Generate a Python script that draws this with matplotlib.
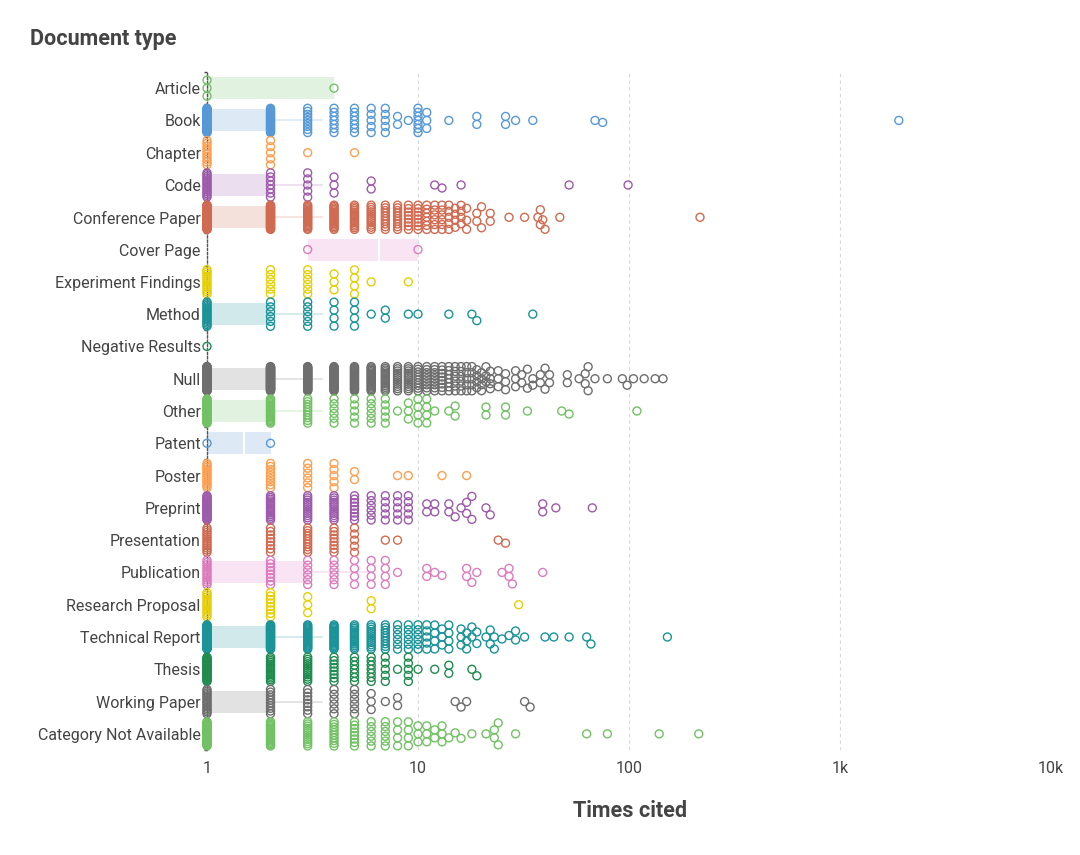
import numpy as np
import matplotlib.pyplot as plt
from matplotlib.colors import to_rgba

plt.rcParams['font.family'] = ['Roboto', 'DejaVu Sans']

categories = ['Article', 'Book', 'Chapter', 'Code', 'Conference Paper', 'Cover Page',
              'Experiment Findings', 'Method', 'Negative Results', 'Null', 'Other',
              'Patent', 'Poster', 'Preprint', 'Presentation', 'Publication',
              'Research Proposal', 'Technical Report', 'Thesis', 'Working Paper',
              'Category Not Available']

palette = ['#72c265', '#5699d6', '#fd9f50', '#9d5bab', '#d06a50',
           '#dc7cbf', '#e6cf05', '#1a9399', '#1f8b4f', '#6e6e6e']

# citation values and how many documents have each value
article_vals = [1, 4]
article_cnts = [3, 1]
book_vals = [1, 2, 3, 4, 5, 6, 7, 8, 9, 10, 11, 14, 19, 26, 29, 35, 69, 75, 1900]
book_cnts = [40, 25, 9, 7, 7, 5, 5, 2, 1, 7, 3, 1, 2, 2, 1, 1, 1, 1, 1]
chapter_vals = [1, 2, 3, 5]
chapter_cnts = [10, 5, 1, 1]
code_vals = [1, 2, 3, 4, 6, 12, 13, 16, 52, 99]
code_cnts = [15, 7, 5, 3, 2, 1, 1, 1, 1, 1]
conf_vals = [1, 2, 3, 4, 5, 6, 7, 8, 9, 10, 11, 12, 13, 14, 15, 16, 17, 19, 20, 22,
             27, 32, 37, 38, 39, 40, 47, 217]
conf_cnts = [80, 40, 20, 18, 15, 12, 10, 10, 8, 8, 7, 6, 6, 5, 4, 4, 3, 2, 2, 2,
             1, 1, 1, 2, 1, 1, 1, 1]
cover_vals = [3, 10]
cover_cnts = [1, 1]
exper_vals = [1, 2, 3, 4, 5, 6, 9]
exper_cnts = [12, 6, 6, 3, 4, 1, 1]
method_vals = [1, 2, 3, 4, 5, 6, 7, 9, 10, 14, 18, 19, 35]
method_cnts = [16, 6, 6, 4, 4, 1, 2, 1, 1, 1, 1, 1, 1]
negative_vals = [1]
negative_cnts = [1]
null_vals = [1, 2, 3, 4, 5, 6, 7, 8, 9, 10, 11, 12, 13, 14, 15, 16, 17, 18, 19, 20,
             21, 22, 24, 26, 29, 31, 33, 35, 38, 40, 42, 51, 58, 62, 64, 69, 79, 93,
             98, 105, 118, 133, 145]
null_cnts = [100, 60, 40, 30, 25, 20, 15, 12, 12, 10, 9, 9, 8, 7, 6, 6, 5, 5, 4, 4,
             3, 4, 3, 3, 3, 2, 2, 2, 2, 2, 2, 2, 1, 2, 2, 1, 1, 1,
             1, 1, 1, 1, 1]
other_vals = [1, 2, 3, 4, 5, 6, 7, 8, 9, 10, 11, 12, 14, 15, 21, 26, 33, 48, 52, 109]
other_cnts = [30, 20, 10, 6, 5, 6, 5, 1, 3, 4, 4, 1, 1, 2, 2, 2, 1, 1, 1, 1]
patent_vals = [1, 2]
patent_cnts = [1, 1]
poster_vals = [1, 2, 3, 4, 5, 8, 9, 13, 17]
poster_cnts = [14, 9, 6, 5, 2, 1, 1, 1, 1]
preprint_vals = [1, 2, 3, 4, 5, 6, 7, 8, 9, 11, 12, 14, 15, 16, 17, 18, 21, 22, 39, 45, 67]
preprint_cnts = [25, 15, 12, 12, 8, 6, 5, 5, 5, 2, 2, 2, 1, 1, 2, 2, 1, 1, 2, 1, 1]
present_vals = [1, 2, 3, 4, 5, 7, 8, 24, 26]
present_cnts = [12, 8, 10, 8, 5, 1, 1, 1, 1]
public_vals = [1, 2, 3, 4, 5, 6, 7, 8, 11, 12, 13, 17, 18, 19, 25, 27, 28, 39]
public_cnts = [12, 8, 6, 6, 4, 4, 4, 1, 2, 1, 1, 2, 1, 1, 1, 2, 1, 1]
proposal_vals = [1, 2, 3, 6, 30]
proposal_cnts = [12, 8, 3, 2, 1]
techrep_vals = [1, 2, 3, 4, 5, 6, 7, 8, 9, 10, 11, 12, 13, 14, 16, 17, 18, 19, 21, 22,
                23, 25, 27, 29, 32, 40, 44, 52, 63, 66, 152]
techrep_cnts = [60, 35, 25, 20, 15, 12, 10, 6, 6, 6, 5, 4, 3, 4, 3, 3, 2, 2, 1, 2,
                2, 1, 1, 2, 1, 1, 1, 1, 1, 1, 1]
thesis_vals = [1, 2, 3, 4, 5, 6, 7, 8, 9, 10, 12, 14, 18, 19]
thesis_cnts = [25, 15, 12, 8, 7, 7, 5, 1, 5, 1, 1, 2, 1, 1]
working_vals = [1, 2, 3, 4, 5, 6, 7, 8, 15, 16, 17, 32, 34]
working_cnts = [15, 10, 8, 6, 6, 3, 1, 2, 1, 1, 1, 1, 1]
na_vals = [1, 2, 3, 4, 5, 6, 7, 8, 9, 10, 11, 12, 13, 14, 15, 16, 18, 21, 23, 24,
           29, 63, 79, 139, 214]
na_cnts = [30, 20, 12, 10, 8, 6, 6, 4, 4, 3, 3, 2, 3, 1, 1, 1, 1, 1, 2, 2,
           1, 1, 1, 1, 1]

all_vals = [article_vals, book_vals, chapter_vals, code_vals, conf_vals, cover_vals,
            exper_vals, method_vals, negative_vals, null_vals, other_vals, patent_vals,
            poster_vals, preprint_vals, present_vals, public_vals, proposal_vals,
            techrep_vals, thesis_vals, working_vals, na_vals]
all_cnts = [article_cnts, book_cnts, chapter_cnts, code_cnts, conf_cnts, cover_cnts,
            exper_cnts, method_cnts, negative_cnts, null_cnts, other_cnts, patent_cnts,
            poster_cnts, preprint_cnts, present_cnts, public_cnts, proposal_cnts,
            techrep_cnts, thesis_cnts, working_cnts, na_cnts]

# box stats (quartiles)
box_q1 = [1, 1, 1, 1, 1, 3, 1, 1, 1, 1, 1, 1, 1, 1, 1, 1, 1, 1, 1, 1, 1]
box_med = [1, 1, 1, 1, 1, 6.5, 1, 1, 1, 1, 1, 1.5, 1, 1, 1, 2, 1, 1, 1, 1, 1]
box_q3 = [4, 2, 1, 2, 2, 10, 1, 2, 1, 2, 2, 2, 1, 1, 1, 3, 1, 2, 1, 2, 1]

W, H = 1080, 855
fig = plt.figure(figsize=(W / 100, H / 100), dpi=100)
ax = fig.add_axes([207 / W, 1 - 750 / H, 844 / W, 678 / H])
ax.set_xscale('log')
ax.set_xlim(1, 10000)
n_cat = len(categories)
ax.set_ylim(n_cat - 0.5, -0.5)

px_dec = 844 / 4
px_row = 678 / n_cat
diam = 8.0
half = px_row / 2 - diam / 2

steps = np.arange(0.5, half + 0.01, 0.5)
cands = np.concatenate([[0.0], np.ravel(np.column_stack([steps, -steps]))])


def swarm(vals, cnts):
    xs, ys = [], []
    px_list, py_list = [], []
    for v, n in zip(vals, cnts):
        gx = np.log10(v) * px_dec
        if n > 4:
            offs = np.linspace(-half, half, n)
        else:
            offs = (np.arange(n) - (n - 1) / 2) * diam
            if px_list:
                pxa, pya = np.array(px_list), np.array(py_list)
                d2 = (pxa[None, :] - gx) ** 2 + (pya[None, :] - offs[:, None]) ** 2
                if np.any(d2 < diam ** 2 * 0.95):
                    offs = []
                    for _ in range(n):
                        pxa, pya = np.array(px_list), np.array(py_list)
                        near = np.abs(pxa - gx) < diam
                        if not near.any():
                            o = 0.0
                        else:
                            d2 = (pxa[near][None, :] - gx) ** 2 + (pya[near][None, :] - cands[:, None]) ** 2
                            md = d2.min(axis=1)
                            good = np.where(md >= diam ** 2 * 0.95)[0]
                            o = cands[good[0]] if len(good) else cands[np.argmax(md)]
                        offs.append(o)
                        px_list.append(gx)
                        py_list.append(o)
                    xs += [v] * n
                    ys += offs
                    continue
        for o in offs:
            px_list.append(gx)
            py_list.append(o)
        xs += [v] * n
        ys += list(offs)
    return np.array(xs, float), np.array(ys) / px_row


for i, cat in enumerate(categories):
    col = palette[i % len(palette)]
    vals, cnts = all_vals[i], all_cnts[i]
    q1, med, q3 = box_q1[i], box_med[i], box_q3[i]
    if q3 > q1:
        ax.barh(i, q3 - q1, left=q1, height=0.68, color=to_rgba(col, 0.2),
                lw=0, zorder=1)
        hi = min(q3 + 1.5 * (q3 - q1), max(vals))
        if hi > q3:
            ax.plot([q3, hi], [i, i], color=to_rgba(col, 0.2), lw=1.3, zorder=1)
        if q1 < med < q3:
            ax.plot([med, med], [i - 0.34, i + 0.34], color='white', lw=1.5, zorder=2)
    xs, ys = swarm(vals, cnts)
    ax.scatter(xs, i + ys, s=33, facecolors='none', edgecolors=col, linewidths=1,
               clip_on=False, zorder=3)

ax.set_yticks(range(n_cat))
ax.set_yticklabels(categories)
ax.set_yticks(np.arange(-0.5, n_cat, 1), minor=True)
ax.set_xticks([1, 10, 100, 1000, 10000])
ax.set_xticklabels(['1', '10', '100', '1k', '10k'])
ax.xaxis.set_minor_locator(plt.NullLocator())
ax.tick_params(axis='y', which='major', length=0, pad=4.5, labelsize=11.5, labelcolor='#444444')
ax.tick_params(axis='y', which='minor', length=2.5, width=1, color='#444444')
ax.tick_params(axis='x', which='major', length=0, pad=8, labelsize=11.5, labelcolor='#444444')

ax.grid(axis='x', which='major', color='#d8d8d8', lw=0.8, linestyle=(0, (3, 3)), zorder=0)
ax.set_axisbelow(True)
for s in ['top', 'right', 'bottom']:
    ax.spines[s].set_visible(False)
ax.spines['left'].set_linestyle((0, (1.5, 1.5)))
ax.spines['left'].set_color('#555555')
ax.spines['left'].set_linewidth(1)

fig.text(30 / W, 1 - 39 / H, 'Document type', fontsize=15.5, fontweight='bold',
         color='#444444', ha='left', va='center')
fig.text(630 / W, 1 - 811 / H, 'Times cited', fontsize=15.5, fontweight='bold',
         color='#444444', ha='center', va='center')

fig.savefig('out.png', dpi=100)
